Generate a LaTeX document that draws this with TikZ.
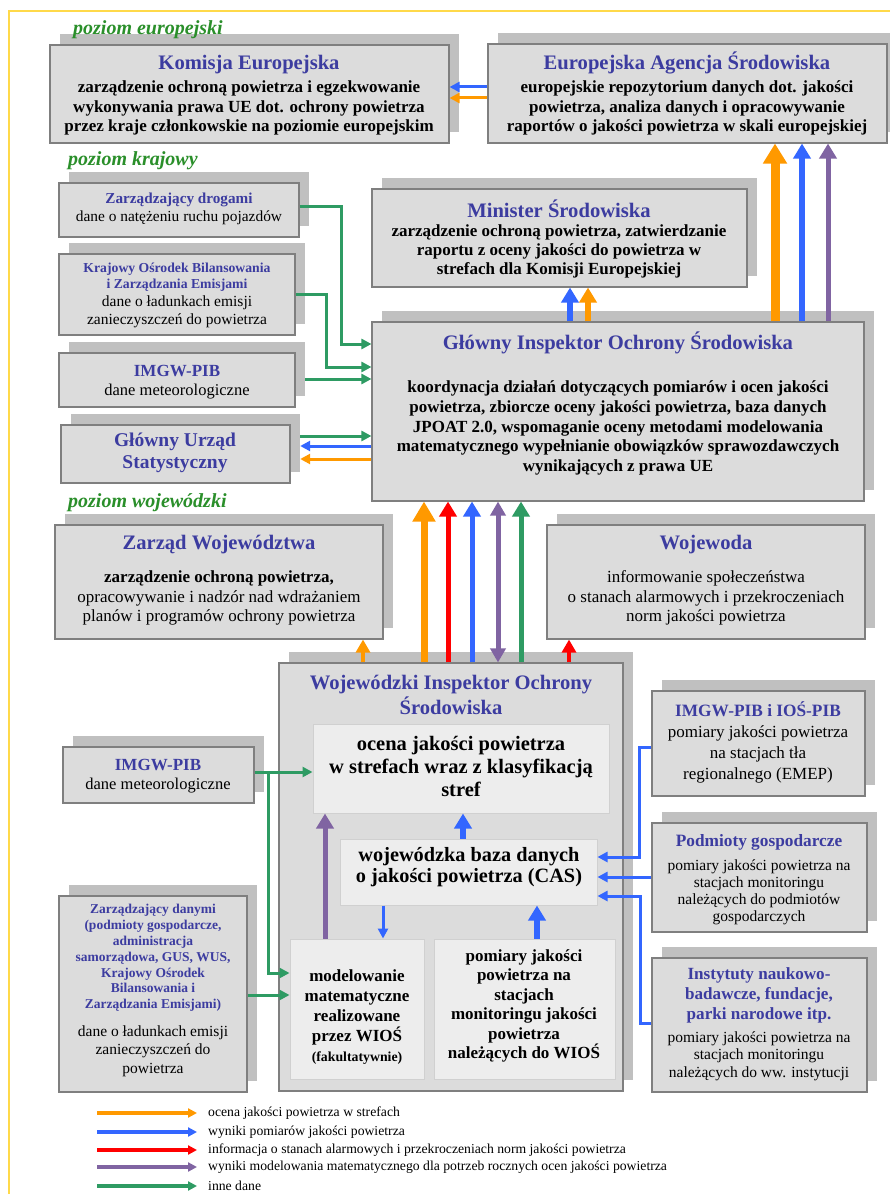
\documentclass[tikz,border=0pt]{standalone}
\usepackage{fontspec}
\setmainfont{Liberation Serif}
\usetikzlibrary{arrows.meta,fit}
\definecolor{ttlc}{HTML}{3C3CA0}
\definecolor{lvlc}{HTML}{2A8F2A}
\definecolor{boxf}{HTML}{DCDCDC}
\definecolor{boxd}{HTML}{7F7F7F}
\definecolor{shd}{HTML}{C0C0C0}
\definecolor{inf}{HTML}{EDEDED}
\definecolor{ind}{HTML}{D0D0D0}
\definecolor{cor}{HTML}{FF9900}
\definecolor{cbl}{HTML}{3366FF}
\definecolor{crd}{HTML}{FF0000}
\definecolor{cpu}{HTML}{8064A2}
\definecolor{cgr}{HTML}{2E9B63}
\definecolor{frc}{HTML}{FFD94A}
\newcommand\fsz[2]{\fontsize{#1}{#2}\selectfont}
\newcommand\mkbox[5]{%
  \node[shadowbox, fit={(#2+10,#3-11) (#4+10,#5-11)}] (#1s) {};
  \node[mainbox, fit={(#2,#3) (#4,#5)}] (#1) {};}
\tikzset{
  shadowbox/.style={fill=shd, draw=none, inner sep=0pt},
  mainbox/.style={fill=boxf, draw=boxd, line width=1.1pt, inner sep=0pt},
  innerbox/.style={fill=inf, draw=ind, line width=1pt, inner sep=0pt},
  ttl/.style={font=\bfseries\fsz{20.6}{24}, text=ttlc, align=center, inner sep=0pt},
  bdy/.style={font=\bfseries\fsz{17}{19.5}, align=center, inner sep=0pt},
  rgl/.style={font=\fsz{16.5}{19}, align=center, inner sep=0pt},
  lvl/.style={font=\bfseries\itshape\fsz{20}{24}, text=lvlc, anchor=west, inner sep=0pt},
  lgt/.style={font=\fsz{13.7}{15}, anchor=west, inner sep=0pt},
  a1/.style={line width=3pt,-{Triangle[length=10pt,width=10pt]}},
  a2/.style={line width=5.5pt,-{Triangle[length=15pt,width=17pt]}},
  a2d/.style={line width=5pt,{Triangle[length=14pt,width=15pt]}-{Triangle[length=14pt,width=15pt]}},
  a3/.style={line width=9pt,-{Triangle[length=20pt,width=23pt]}},
  a3s/.style={line width=7pt,-{Triangle[length=20pt,width=22pt]}},
  a4/.style={line width=4.5pt,-{Triangle[length=13pt,width=14pt]}},
  lga/.style={line width=3.5pt,-{Triangle[length=9pt,width=9pt]}},
}
\begin{document}
\begin{tikzpicture}[x=1pt,y=-1pt]
\useasboundingbox (0,0) rectangle (890,1196);
\clip (0,0) rectangle (890,1196);
\fill[white] (0,0) rectangle (890,1196);
\draw[frc, line width=1.6pt] (9,1194) -- (9,11) -- (900,11);

% boxes
\mkbox{KE}{50}{45}{449}{143}
\mkbox{EEA}{488}{44}{887}{143}
\mkbox{MS}{372}{189}{747}{287}
\mkbox{GIOS}{372}{322}{864}{501}
\mkbox{ZD}{59}{183}{299}{237}
\mkbox{KOB}{59}{254}{295}{335}
\mkbox{IMA}{59}{353}{295}{407}
\mkbox{GUS}{61}{425}{290}{483}
\mkbox{ZW}{55}{525}{383}{639}
\mkbox{WOJ}{547}{525}{865}{639}
\mkbox{WIOS}{279}{663}{623}{1091}
\mkbox{IMB}{63}{747}{254}{803}
\mkbox{ZDAN}{59}{896}{247}{1092}
\mkbox{IOS}{652}{691}{865}{796}
\mkbox{PG}{652}{823}{867}{932}
\mkbox{INST}{652}{958}{867}{1092}
\node[innerbox, fit={(313,724) (609,813)}] (OJ) {};
\node[innerbox, fit={(340,839) (597,905)}] (CAS) {};
\node[innerbox, fit={(290,939) (424,1079)}] (MOD) {};
\node[innerbox, fit={(434,939) (615,1079)}] (POM) {};

% level labels
\node[lvl] (lv1) at (73,30) {poziom europejski};
\node[lvl] (lv2) at (68,161) {poziom krajowy};
\node[lvl] (lv3) at (68,503) {poziom wojewódzki};

% connectors: european level
\draw[a1, cbl] (EEA.west|-0,87) -- (KE.east|-0,87);
\draw[a1, cor] (EEA.west|-0,98) -- (KE.east|-0,98);
\draw[a3, cor] (GIOS.north-|775,0) -- (EEA.south-|775,0);
\draw[a2, cbl] (GIOS.north-|802,0) -- (EEA.south-|802,0);
\draw[a2, cpu, line width=5pt] (GIOS.north-|828,0) -- (EEA.south-|828,0);
\draw[a2, cbl] (GIOS.north-|570,0) -- (MS.south-|570,0);
\draw[a2, cor] (GIOS.north-|588,0) -- (MS.south-|588,0);
% national level
\draw[a1, cgr] (ZD.east|-0,206) -| (341,344) -- (GIOS.west|-0,344);
\draw[a1, cgr] (KOB.east|-0,294) -| (326,367) -- (GIOS.west|-0,367);
\draw[a1, cgr] (IMAs.east|-0,379) -- (GIOS.west|-0,379);
\draw[a1, cgr] (GUSs.east|-0,436) -- (GIOS.west|-0,436);
\draw[a1, cbl] (GIOS.west|-0,446) -- (GUSs.east|-0,446);
\draw[a1, cor] (GIOS.west|-0,459) -- (GUSs.east|-0,459);
% voivodeship level
\draw[a3s, cor] (WIOS.north-|424,0) -- (GIOS.south-|424,0);
\draw[a2, crd, line width=5pt] (WIOS.north-|448,0) -- (GIOS.south-|448,0);
\draw[a2, cbl, line width=5pt] (WIOS.north-|472,0) -- (GIOS.south-|472,0);
\draw[a2d, cpu] (WIOS.north-|498,0) -- (GIOS.south-|498,0);
\draw[a2, cgr, line width=5pt] (WIOS.north-|521,0) -- (GIOS.south-|521,0);
\draw[a4, cor] (WIOS.north-|363,0) -- (ZW.south-|363,0);
\draw[a4, crd] (WIOS.north-|569,0) -- (WOJ.south-|569,0);
% inside WIOS
\draw[a2, cbl] (CAS.north-|463,0) -- (OJ.south-|463,0);
\draw[a2, cpu, line width=5pt] (MOD.north-|325,0) -- (OJ.south-|325,0);
\draw[a1, cbl] (CAS.south-|383,0) -- (MOD.north-|383,0);
\draw[a2, cbl] (POM.north-|537,0) -- (CAS.south-|537,0);
% left inputs
\coordinate (br) at (268,772);
\draw[a1, cgr] (IMB.east|-0,772) -- (OJ.west|-0,772);
\draw[a1, cgr] (br) |- (MOD.west|-0,973);
\draw[a1, cgr] (ZDAN.east|-0,995) -- (MOD.west|-0,995);
% right inputs
\draw[a1, cbl] (IOS.west|-0,747) -| (639,857) -- (CAS.east|-0,857);
\draw[a1, cbl] (PG.west|-0,877) -- (CAS.east|-0,877);
\draw[a1, cbl] (INST.west|-0,1023) -| (640,896) -- (CAS.east|-0,896);

% texts
\node[ttl] (KEt) at (249,65) {Komisja Europejska};
\node[bdy] (KEb) at (249,108) {zarządzenie ochroną powietrza i egzekwowanie\\wykonywania prawa UE dot. ochrony powietrza\\przez kraje członkowskie na poziomie europejskim};
\node[ttl] (EEAt) at (687,63) {Europejska Agencja Środowiska};
\node[bdy] (EEAb) at (687,108) {europejskie repozytorium danych dot. jakości\\powietrza, analiza danych i opracowywanie\\raportów o jakości powietrza w skali europejskiej};
\node[ttl] (MSt) at (559,209) {Minister Środowiska};
\node[bdy, font=\bfseries\fsz{17}{19}] (MSb) at (559,251) {zarządzenie ochroną powietrza, zatwierdzanie\\raportu z oceny jakości do powietrza w\\strefach dla Komisji Europejskiej};
\node[ttl] (GIOSt) at (618,343) {Główny Inspektor Ochrony Środowiska};
\node[bdy, font=\bfseries\fsz{17}{19.7}] (GIOSb) at (618,428) {koordynacja działań dotyczących pomiarów i ocen jakości\\powietrza, zbiorcze oceny jakości powietrza, baza danych\\JPOAT 2.0, wspomaganie oceny metodami modelowania\\matematycznego wypełnianie obowiązków sprawozdawczych\\wynikających z prawa UE};
\node[ttl, font=\bfseries\fsz{15.2}{17}] (ZDt) at (179,200) {Zarządzający drogami};
\node[rgl, font=\fsz{15.4}{17}] (ZDb) at (179,218) {dane o natężeniu ruchu pojazdów};
\node[ttl, font=\bfseries\fsz{13.7}{16}] (KOBt) at (177,277) {Krajowy Ośrodek Bilansowania\\i Zarządzania Emisjami};
\node[rgl, font=\fsz{15.5}{18}] (KOBb) at (177,312) {dane o ładunkach emisji\\zanieczyszczeń do powietrza};
\node[ttl, font=\bfseries\fsz{17}{20}] (IMAt) at (177,371) {IMGW-PIB};
\node[rgl] (IMAb) at (177,392) {dane meteorologiczne};
\node[ttl, font=\bfseries\fsz{19.5}{22}] (GUSt) at (175,453) {Główny Urząd\\Statystyczny};
\node[ttl] (ZWt) at (219,545) {Zarząd Województwa};
\node[rgl, font=\fsz{17}{19.5}] (ZWb) at (219,598) {{\bfseries zarządzenie ochroną powietrza,}\\opracowywanie i nadzór nad wdrażaniem\\planów i programów ochrony powietrza};
\node[ttl] (WOJt) at (706,545) {Wojewoda};
\node[rgl, font=\fsz{17}{19.5}] (WOJb) at (706,598) {informowanie społeczeństwa\\o stanach alarmowych i przekroczeniach\\norm jakości powietrza};
\node[ttl, font=\bfseries\fsz{20.6}{25}] (WIOSt) at (451,695) {Wojewódzki Inspektor Ochrony\\Środowiska};
\node[bdy, font=\bfseries\fsz{20.5}{23}] (OJt) at (461,766) {ocena jakości powietrza\\w strefach wraz z klasyfikacją\\stref};
\node[bdy, font=\bfseries\fsz{20.3}{20.5}] (CASt) at (469,867) {wojewódzka baza danych\\o jakości powietrza (CAS)};
\node[bdy, font=\bfseries\fsz{17}{19.8}] (MODt) at (357,1017) {modelowanie\\matematyczne\\realizowane\\przez WIOŚ\\{\fsz{13.8}{19.8}(fakultatywnie)}};
\node[bdy, font=\bfseries\fsz{17}{19.4}] (POMt) at (524,1006) {pomiary jakości\\powietrza na\\stacjach\\monitoringu jakości\\powietrza\\należących do WIOŚ};
\node[ttl, font=\bfseries\fsz{17}{20}] (IMBt) at (158,765) {IMGW-PIB};
\node[rgl] (IMBb) at (158,786) {dane meteorologiczne};
\node[ttl, font=\bfseries\fsz{13.5}{15.8}] (ZDANt) at (153,958) {Zarządzający danymi\\(podmioty gospodarcze,\\administracja\\samorządowa, GUS, WUS,\\Krajowy Ośrodek\\Bilansowania i\\Zarządzania Emisjami)};
\node[rgl, font=\fsz{15.5}{18.5}] (ZDANb) at (153,1051) {dane o ładunkach emisji\\zanieczyszczeń do\\powietrza};
\node[ttl, font=\bfseries\fsz{17.3}{20}] (IOSt) at (758,709) {IMGW-PIB i IOŚ-PIB};
\node[rgl, font=\fsz{17}{21}] (IOSb) at (758,754) {pomiary jakości powietrza\\na stacjach tła\\regionalnego (EMEP)};
\node[ttl, font=\bfseries\fsz{17.3}{18}] (PGt) at (759,842) {Podmioty gospodarcze};
\node[rgl, font=\fsz{15.5}{17}] (PGb) at (759,892) {pomiary jakości powietrza na\\stacjach monitoringu\\należących do podmiotów\\gospodarczych};
\node[ttl, font=\bfseries\fsz{17.1}{20}] (INSTt) at (759,995) {Instytuty naukowo-\\badawcze, fundacje,\\parki narodowe itp.};
\node[rgl, font=\fsz{15.5}{17.5}] (INSTb) at (759,1056) {pomiary jakości powietrza na\\stacjach monitoringu\\należących do ww. instytucji};

% legend
\coordinate (l1s) at (97,1113); \coordinate (l1e) at (197,1113);
\coordinate (l2s) at (97,1132); \coordinate (l2e) at (197,1132);
\coordinate (l3s) at (97,1150); \coordinate (l3e) at (197,1150);
\coordinate (l4s) at (97,1167); \coordinate (l4e) at (197,1167);
\coordinate (l5s) at (97,1186); \coordinate (l5e) at (197,1186);
\draw[lga, cor] (l1s) -- (l1e);
\draw[lga, cbl] (l2s) -- (l2e);
\draw[lga, crd] (l3s) -- (l3e);
\draw[lga, cpu] (l4s) -- (l4e);
\draw[lga, cgr] (l5s) -- (l5e);
\node[lgt] (lg1) at (208,1113) {ocena jakości powietrza w strefach};
\node[lgt] (lg2) at (208,1132) {wyniki pomiarów jakości powietrza};
\node[lgt] (lg3) at (208,1150) {informacja o stanach alarmowych i przekroczeniach norm jakości powietrza};
\node[lgt] (lg4) at (208,1167) {wyniki modelowania matematycznego dla potrzeb rocznych ocen jakości powietrza};
\node[lgt] (lg5) at (208,1186) {inne dane};
\end{tikzpicture}
\end{document}
